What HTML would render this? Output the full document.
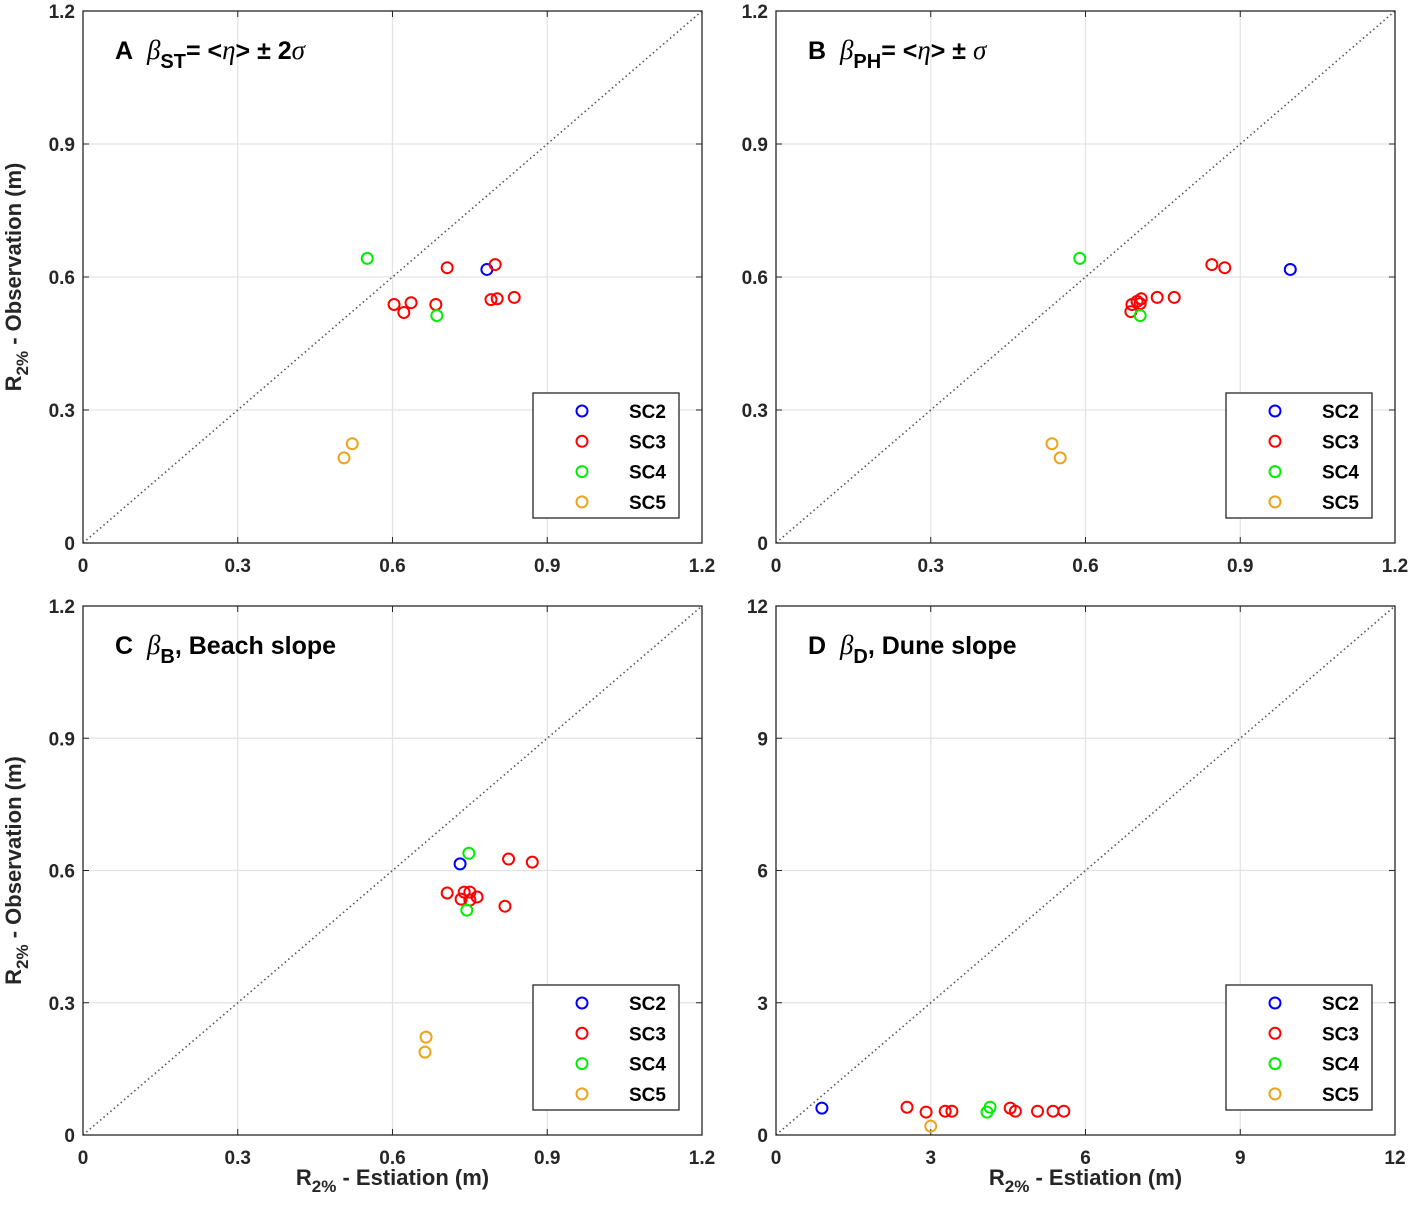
<!DOCTYPE html>
<html><head><meta charset="utf-8"><style>
body{margin:0;background:#fff;}
svg{display:block;font-family:"Liberation Sans",Arial,sans-serif;}
</style></head><body>
<svg id="fig" width="1417" height="1205" xmlns="http://www.w3.org/2000/svg"></svg>
<script>
// Panel A data
const aSC2x=[0.783], aSC2y=[0.617];
const aSC3x=[0.706,0.799,0.603,0.622,0.636,0.684,0.791,0.803,0.836];
const aSC3y=[0.621,0.628,0.538,0.520,0.542,0.538,0.549,0.551,0.554];
const aSC4x=[0.551,0.686], aSC4y=[0.642,0.513];
const aSC5x=[0.522,0.506], aSC5y=[0.224,0.192];
// Panel B data
const bSC2x=[0.997], bSC2y=[0.617];
const bSC3x=[0.845,0.870,0.739,0.772,0.688,0.690,0.700,0.708,0.706];
const bSC3y=[0.628,0.621,0.554,0.554,0.522,0.538,0.545,0.551,0.540];
const bSC4x=[0.589,0.706], bSC4y=[0.642,0.513];
const bSC5x=[0.535,0.551], bSC5y=[0.224,0.192];
// Panel C data
const cSC2x=[0.731], cSC2y=[0.615];
const cSC3x=[0.825,0.871,0.706,0.733,0.739,0.750,0.750,0.764,0.818];
const cSC3y=[0.626,0.619,0.549,0.535,0.551,0.551,0.533,0.540,0.519];
const cSC4x=[0.748,0.744], cSC4y=[0.639,0.510];
const cSC5x=[0.665,0.663], cSC5y=[0.222,0.188];
// Panel D data
const dSC2x=[0.89], dSC2y=[0.61];
const dSC3x=[2.54,2.91,3.28,3.41,4.54,4.64,5.07,5.37,5.58];
const dSC3y=[0.63,0.52,0.54,0.54,0.61,0.54,0.54,0.54,0.54];
const dSC4x=[4.15,4.09], dSC4y=[0.63,0.52];
const dSC5x=[3.00], dSC5y=[0.20];
const ticks1=["0","0.3","0.6","0.9","1.2"], tickVals1=[0,0.3,0.6,0.9,1.2];
const ticks2=["0","3","6","9","12"], tickVals2=[0,3,6,9,12];
const seriesNames=["SC2","SC3","SC4","SC5"];
const colors=["#0000ff","#ff0000","#00ee00","#eda31a"];

const NS="http://www.w3.org/2000/svg";
const svg=document.getElementById('fig');
function mk(tag,attrs,parent,text){const e=document.createElementNS(NS,tag);for(const k in attrs)e.setAttribute(k,attrs[k]);if(text!==undefined)e.textContent=text;(parent||svg).appendChild(e);return e;}

const panels=[
 {id:'a',L:83,R:702,T:11,B:543,max:1.2,tv:tickVals1,tl:ticks1,data:[[aSC2x,aSC2y],[aSC3x,aSC3y],[aSC4x,aSC4y],[aSC5x,aSC5y]],letter:'A',ylab:true,xlab:false,title:'st'},
 {id:'b',L:776,R:1395,T:11,B:543,max:1.2,tv:tickVals1,tl:ticks1,data:[[bSC2x,bSC2y],[bSC3x,bSC3y],[bSC4x,bSC4y],[bSC5x,bSC5y]],letter:'B',ylab:false,xlab:false,title:'ph'},
 {id:'c',L:83,R:702,T:606,B:1135,max:1.2,tv:tickVals1,tl:ticks1,data:[[cSC2x,cSC2y],[cSC3x,cSC3y],[cSC4x,cSC4y],[cSC5x,cSC5y]],letter:'C',ylab:true,xlab:true,title:'b'},
 {id:'d',L:776,R:1395,T:606,B:1135,max:12,tv:tickVals2,tl:ticks2,data:[[dSC2x,dSC2y],[dSC3x,dSC3y],[dSC4x,dSC4y],[dSC5x,dSC5y]],letter:'D',ylab:false,xlab:true,title:'d'}
];

panels.forEach(p=>{
 const g=mk('g',{});
 
 
 const xs=v=>p.L+(v/p.max)*(p.R-p.L);
 const ys=v=>p.B-(v/p.max)*(p.B-p.T);
 p.tv.forEach((v,i)=>{
  if(i>0&&i<p.tv.length-1){
   mk('line',{x1:xs(v),x2:xs(v),y1:p.T,y2:p.B,stroke:'#e3e3e3','stroke-width':1.3},g);
   mk('line',{x1:p.L,x2:p.R,y1:ys(v),y2:ys(v),stroke:'#e3e3e3','stroke-width':1.3},g);
  }
  const tx=mk('text',{x:xs(v),y:p.B+29,'text-anchor':'middle','font-size':19,'font-weight':'bold',fill:'#262626'},g,p.tl[i]);
  
  
  const ty=mk('text',{x:p.L-8,y:ys(v)+7,'text-anchor':'end','font-size':19,'font-weight':'bold',fill:'#262626'},g,p.tl[i]);
  
  
  mk('line',{x1:xs(v),x2:xs(v),y1:p.B,y2:p.B-6,stroke:'#262626','stroke-width':1},g);
  mk('line',{x1:xs(v),x2:xs(v),y1:p.T,y2:p.T+6,stroke:'#262626','stroke-width':1},g);
  mk('line',{x1:p.L,x2:p.L+6,y1:ys(v),y2:ys(v),stroke:'#262626','stroke-width':1},g);
  mk('line',{x1:p.R,x2:p.R-6,y1:ys(v),y2:ys(v),stroke:'#262626','stroke-width':1},g);
 });
 const dl=mk('line',{x1:xs(0),y1:ys(0),x2:xs(p.max),y2:ys(p.max),stroke:'#555','stroke-width':1.6,'stroke-dasharray':'1.5 3'},g);
 
 
 const bx=mk('rect',{x:p.L,y:p.T,width:p.R-p.L,height:p.B-p.T,fill:'none',stroke:'#262626','stroke-width':1.3},g);
 
 
 p.data.forEach((s,si)=>{
  s[0].forEach((xv,k)=>{
   const c=mk('circle',{cx:xs(xv),cy:ys(s[1][k]),r:5.5,fill:'none',stroke:colors[si],'stroke-width':2},g);
   
   
  });
 });
 const lx=p.R-169, ly=p.B-150;
 const lg=mk('g',{},g);
 
 
 mk('rect',{x:lx,y:ly,width:146,height:125,fill:'#fff',stroke:'#262626','stroke-width':1.3},lg);
 seriesNames.forEach((n,i)=>{
  const yy=ly+18+i*30.3;
  mk('circle',{cx:lx+49,cy:yy,r:5.5,fill:'none',stroke:colors[i],'stroke-width':2},lg);
  const t=mk('text',{x:lx+96,y:yy+7,'font-size':19,'font-weight':'bold','text-anchor':'start',fill:'#000'},lg,n);
  
  
 });
 const tt=mk('text',{x:p.L+32,y:p.T+48,'font-size':25,'font-weight':'bold',fill:'#000'},g);
 
 
 const it=s=>'<tspan font-family="Liberation Serif,serif" font-style="italic" font-weight="normal" font-size="27">'+s+'</tspan>';
 const beta=it('β');
 const sub=s=>'<tspan dy="9" font-size="20">'+s+'</tspan>';
 const up=s=>'<tspan dy="-9">'+s+'</tspan>';
 let html='';
 if(p.title==='st') html=p.letter+'\u00a0\u00a0'+beta+sub('ST')+up('= &lt;')+it('η')+'&gt; ± 2'+it('σ');
 if(p.title==='ph') html=p.letter+'\u00a0\u00a0'+beta+sub('PH')+up('= &lt;')+it('η')+'&gt; ± '+it('σ');
 if(p.title==='b') html=p.letter+'\u00a0\u00a0'+beta+sub('B')+up(', Beach slope');
 if(p.title==='d') html=p.letter+'\u00a0\u00a0'+beta+sub('D')+up(', Dune slope');
 tt.innerHTML=html;
 if(p.ylab){
  const yl=mk('text',{transform:'translate(21,'+((p.T+p.B)/2)+') rotate(-90)','text-anchor':'middle','font-size':22,'font-weight':'bold',fill:'#262626'},g);
  yl.innerHTML='R<tspan dy="7" font-size="17">2%</tspan><tspan dy="-7"> - Observation (m)</tspan>';
  
  
 }
 if(p.xlab){
  const xl=mk('text',{x:(p.L+p.R)/2,y:p.B+50,'text-anchor':'middle','font-size':22,'font-weight':'bold',fill:'#262626'},g);
  xl.innerHTML='R<tspan dy="7" font-size="17">2%</tspan><tspan dy="-7"> - Estiation (m)</tspan>';
  
  
 }
});
</script>
</body></html>
